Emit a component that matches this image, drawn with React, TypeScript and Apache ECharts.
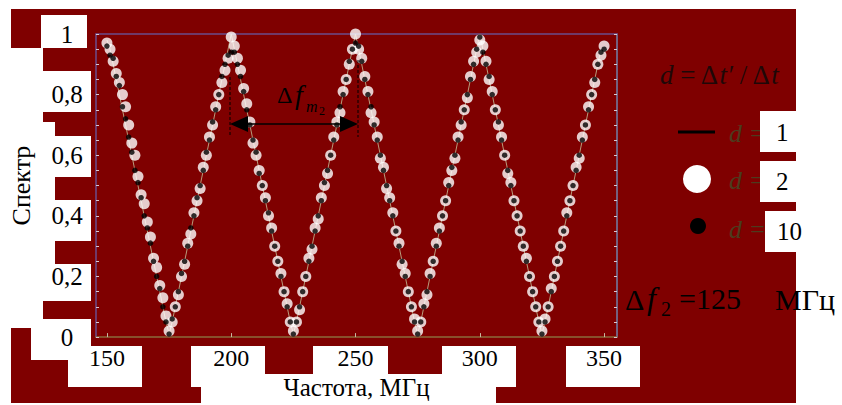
import { useEffect, useRef } from "react";
import * as echarts from "echarts";

// Frequency grid (MHz) (points every ~1.25 MHz)
const freq = [
  150, 151.25, 152.5, 153.75, 155, 156.25, 157.5, 158.75,
  160, 161.25, 162.5, 163.75, 165, 166.25, 167.5, 168.75,
  170, 171.25, 172.5, 173.75, 175, 176.25, 177.5, 178.75,
  180, 181.25, 182.5, 183.75, 185, 186.25, 187.5, 188.75,
  190, 191.25, 192.5, 193.75, 195, 196.25, 197.5, 198.75,
  200, 201.25, 202.5, 203.75, 205, 206.25, 207.5, 208.75,
  210, 211.25, 212.5, 213.75, 215, 216.25, 217.5, 218.75,
  220, 221.25, 222.5, 223.75, 225, 226.25, 227.5, 228.75,
  230, 231.25, 232.5, 233.75, 235, 236.25, 237.5, 238.75,
  240, 241.25, 242.5, 243.75, 245, 246.25, 247.5, 248.75,
  250, 251.25, 252.5, 253.75, 255, 256.25, 257.5, 258.75,
  260, 261.25, 262.5, 263.75, 265, 266.25, 267.5, 268.75,
  270, 271.25, 272.5, 273.75, 275, 276.25, 277.5, 278.75,
  280, 281.25, 282.5, 283.75, 285, 286.25, 287.5, 288.75,
  290, 291.25, 292.5, 293.75, 295, 296.25, 297.5, 298.75,
  300, 301.25, 302.5, 303.75, 305, 306.25, 307.5, 308.75,
  310, 311.25, 312.5, 313.75, 315, 316.25, 317.5, 318.75,
  320, 321.25, 322.5, 323.75, 325, 326.25, 327.5, 328.75,
  330, 331.25, 332.5, 333.75, 335, 336.25, 337.5, 338.75,
  340, 341.25, 342.5, 343.75, 345, 346.25, 347.5, 348.75,
  350,
];

// d = 1 (line)
const specD1 = [
  0.98, 0.95, 0.9, 0.85, 0.8, 0.75, 0.7, 0.65, 0.6, 0.55, 0.5, 0.45, 0.4, 0.35, 0.3, 0.25, 0.2, 0.15, 0.1, 0.05,
  0.01, 0.05, 0.1, 0.15, 0.2, 0.25, 0.3, 0.35, 0.4, 0.45, 0.5, 0.55, 0.6, 0.65, 0.7, 0.75, 0.8, 0.85, 0.9, 0.95,
  1.0, 0.95, 0.9, 0.85, 0.8, 0.75, 0.7, 0.65, 0.6, 0.55, 0.5, 0.45, 0.4, 0.35, 0.3, 0.25, 0.2, 0.15, 0.1, 0.05,
  0.01, 0.05, 0.1, 0.15, 0.2, 0.25, 0.3, 0.35, 0.4, 0.45, 0.5, 0.55, 0.6, 0.65, 0.7, 0.75, 0.8, 0.85, 0.9, 0.95,
  1.0, 0.95, 0.9, 0.85, 0.8, 0.75, 0.7, 0.65, 0.6, 0.55, 0.5, 0.45, 0.4, 0.35, 0.3, 0.25, 0.2, 0.15, 0.1, 0.05,
  0.01, 0.05, 0.1, 0.15, 0.2, 0.25, 0.3, 0.35, 0.4, 0.45, 0.5, 0.55, 0.6, 0.65, 0.7, 0.75, 0.8, 0.85, 0.9, 0.95,
  1.0, 0.95, 0.9, 0.85, 0.8, 0.75, 0.7, 0.65, 0.6, 0.55, 0.5, 0.45, 0.4, 0.35, 0.3, 0.25, 0.2, 0.15, 0.1, 0.05,
  0.01, 0.05, 0.1, 0.15, 0.2, 0.25, 0.3, 0.35, 0.4, 0.45, 0.5, 0.55, 0.6, 0.65, 0.7, 0.75, 0.8, 0.85, 0.9, 0.95,
  0.96,
];

// d = 2 (white circles)
const specD2 = [
  0.97, 0.95, 0.91, 0.87, 0.84, 0.8, 0.76, 0.7, 0.64, 0.6, 0.53, 0.47, 0.44, 0.38, 0.33, 0.26, 0.23, 0.17, 0.13, 0.07,
  0.02, 0.05, 0.1, 0.14, 0.2, 0.24, 0.31, 0.34, 0.41, 0.45, 0.49, 0.56, 0.6, 0.66, 0.7, 0.76, 0.8, 0.84, 0.88, 0.92,
  0.99, 0.96, 0.92, 0.88, 0.82, 0.77, 0.71, 0.64, 0.6, 0.55, 0.5, 0.46, 0.4, 0.36, 0.3, 0.25, 0.21, 0.15, 0.11, 0.05,
  0.02, 0.05, 0.09, 0.15, 0.2, 0.26, 0.29, 0.36, 0.39, 0.46, 0.5, 0.54, 0.6, 0.66, 0.71, 0.74, 0.81, 0.85, 0.9, 0.95,
  1.0, 0.95, 0.92, 0.86, 0.81, 0.74, 0.71, 0.66, 0.59, 0.56, 0.49, 0.46, 0.41, 0.35, 0.31, 0.24, 0.21, 0.15, 0.1, 0.06,
  0.02, 0.05, 0.11, 0.14, 0.21, 0.25, 0.31, 0.36, 0.4, 0.45, 0.51, 0.55, 0.59, 0.66, 0.7, 0.75, 0.79, 0.86, 0.91, 0.94,
  0.98, 0.96, 0.91, 0.85, 0.81, 0.75, 0.7, 0.66, 0.6, 0.54, 0.51, 0.45, 0.4, 0.35, 0.3, 0.26, 0.2, 0.15, 0.1, 0.05,
  0.02, 0.06, 0.1, 0.16, 0.2, 0.25, 0.3, 0.35, 0.41, 0.45, 0.5, 0.56, 0.59, 0.66, 0.7, 0.76, 0.8, 0.84, 0.9, 0.93,
  0.96,
];

// d = 10 (black dots)
const specD10 = [
  0.96, 0.93, 0.92, 0.86, 0.83, 0.76, 0.72, 0.66, 0.61, 0.55, 0.51, 0.46, 0.4, 0.36, 0.31, 0.25, 0.2, 0.16, 0.1, 0.05,
  0.01, 0.06, 0.1, 0.15, 0.21, 0.25, 0.3, 0.36, 0.4, 0.46, 0.5, 0.55, 0.61, 0.65, 0.71, 0.75, 0.8, 0.86, 0.9, 0.93,
  0.94, 0.94, 0.9, 0.86, 0.81, 0.75, 0.7, 0.65, 0.61, 0.54, 0.5, 0.45, 0.41, 0.35, 0.3, 0.25, 0.2, 0.15, 0.1, 0.05,
  0.01, 0.05, 0.1, 0.15, 0.2, 0.25, 0.3, 0.35, 0.4, 0.45, 0.51, 0.55, 0.6, 0.65, 0.7, 0.76, 0.8, 0.85, 0.91, 0.95,
  0.97, 0.96, 0.91, 0.85, 0.8, 0.76, 0.7, 0.65, 0.6, 0.55, 0.5, 0.45, 0.4, 0.35, 0.3, 0.25, 0.2, 0.15, 0.1, 0.05,
  0.01, 0.05, 0.1, 0.15, 0.2, 0.25, 0.3, 0.35, 0.4, 0.45, 0.5, 0.56, 0.6, 0.65, 0.71, 0.75, 0.8, 0.85, 0.9, 0.95,
  0.99, 0.94, 0.9, 0.86, 0.8, 0.75, 0.71, 0.65, 0.6, 0.55, 0.5, 0.45, 0.4, 0.35, 0.3, 0.25, 0.2, 0.15, 0.1, 0.05,
  0.01, 0.05, 0.1, 0.15, 0.2, 0.25, 0.3, 0.35, 0.4, 0.45, 0.5, 0.55, 0.6, 0.65, 0.7, 0.75, 0.8, 0.85, 0.9, 0.94,
  0.95,
];

const xTickValues = [150, 200, 250, 300, 350];
const yLabelValues = [0, 0.2, 0.4, 0.6, 0.8, 1];
const legendValues = ["1", "2", "10"];

const RED = "#7f0000";
const SERIF = '"Liberation Serif", "DejaVu Serif", serif';

export default function App() {
  const ref = useRef<HTMLDivElement>(null);

  useEffect(() => {
    const chart = echarts.init(ref.current!, null, { renderer: "svg" });

    const rect = (x: number, y: number, w: number, h: number, fill: string, z = -8) => ({
      type: "rect",
      shape: { x, y, width: w, height: h },
      style: { fill },
      z,
      silent: true,
    });
    const text = (
      x: number,
      y: number,
      t: string,
      size: number,
      opts: Record<string, any> = {},
      z = 100
    ) => ({
      type: "text",
      x,
      y,
      z,
      silent: true,
      style: {
        text: t,
        fontSize: size,
        fontFamily: SERIF,
        fill: opts.fill || "#000",
        fontStyle: opts.italic ? "italic" : "normal",
        align: opts.align || "left",
        verticalAlign: "middle",
      },
    });

    const yLabelFmt = (v: number) => {
      const r = Math.round(v * 100);
      if (r % 20 !== 0) return "";
      const found = yLabelValues.find((y) => Math.round(y * 100) === r);
      if (found === undefined) return "";
      if (r === 0) return "0";
      if (r === 100) return "1";
      return String(found).replace(".", ",");
    };

    const graphic: any[] = [
      // backgrounds
      rect(11, 9, 785, 394, RED, -10),
      rect(0, 48, 43, 280, "#fff"),
      rect(41, 15, 46, 33, "#fff"),
      rect(43, 71, 48, 41, "#fff"),
      rect(43, 122, 12, 179, "#fff"),
      rect(43, 136, 48, 41, "#fff"),
      rect(43, 200, 48, 41, "#fff"),
      rect(43, 264, 48, 37, "#fff"),
      rect(31, 319, 60, 41, "#fff"),
      rect(68, 346, 74, 41, "#fff"),
      rect(191, 346, 74, 41, "#fff"),
      rect(313, 346, 75, 41, "#fff"),
      rect(442, 346, 74, 41, "#fff"),
      rect(566, 346, 74, 41, "#fff"),
      rect(201, 374, 295, 31, "#fff"),
      rect(760, 111, 82, 41, "#fff"),
      rect(760, 161, 82, 41, "#fff"),
      rect(765, 211, 77, 41, "#fff"),

      // Δf_m2 annotation
      {
        type: "line",
        z: 100,
        silent: true,
        shape: { x1: 230, y1: 77, x2: 230, y2: 137 },
        style: { stroke: "#000", lineWidth: 1, lineDash: [3, 2] },
      },
      {
        type: "line",
        z: 100,
        silent: true,
        shape: { x1: 358, y1: 60, x2: 358, y2: 137 },
        style: { stroke: "#000", lineWidth: 1, lineDash: [3, 2] },
      },
      {
        type: "line",
        z: 100,
        silent: true,
        shape: { x1: 244, y1: 124, x2: 344, y2: 124 },
        style: { stroke: "#000", lineWidth: 1.5 },
      },
      {
        type: "polygon",
        z: 100,
        silent: true,
        shape: { points: [[230, 124], [248, 116], [248, 132]] },
        style: { fill: "#000" },
      },
      {
        type: "polygon",
        z: 100,
        silent: true,
        shape: { points: [[358, 124], [340, 116], [340, 132]] },
        style: { fill: "#000" },
      },
      text(277, 95, "Δ", 24),
      text(295, 94, "f", 28, { italic: true }),
      text(306, 106, "m", 16, { italic: true }),
      text(319, 111, "2", 12),

      // legend title
      {
        type: "text",
        x: 660,
        y: 75,
        z: 100,
        silent: true,
        style: {
          text: "{i|d} = Δ{i|t′} / Δ{i|t}",
          fontSize: 27,
          fontFamily: SERIF,
          fill: "#1e0808",
          verticalAlign: "middle",
          rich: {
            i: { fontStyle: "italic", fontSize: 27, fontFamily: SERIF, fill: "#1e0808" },
          },
        },
      },
      // legend symbols
      {
        type: "line",
        z: 100,
        silent: true,
        shape: { x1: 678, y1: 132, x2: 715, y2: 132 },
        style: { stroke: "#000", lineWidth: 3 },
      },
      {
        type: "circle",
        z: 100,
        silent: true,
        shape: { cx: 697, cy: 179, r: 14 },
        style: { fill: "#fff" },
      },
      {
        type: "circle",
        z: 100,
        silent: true,
        shape: { cx: 698, cy: 226, r: 8 },
        style: { fill: "#000" },
      },
      text(729, 133, "d =", 26, { italic: true, fill: "#4d3b1e" }, -9),
      text(729, 180, "d =", 26, { italic: true, fill: "#4d3b1e" }, -9),
      text(729, 229, "d =", 26, { italic: true, fill: "#4d3b1e" }, -9),
      text(776, 132, legendValues[0], 25),
      text(776, 181, legendValues[1], 25),
      text(777, 231, legendValues[2], 25),

      // Δf2 = 125 МГц
      text(625, 299, "Δ", 30),
      text(647, 298, "f", 32, { italic: true }),
      text(661, 309, "2", 20),
      text(679, 298, "=125", 30),
      text(775, 299, "МГц", 30),
    ];

    const option: any = {
      animation: false,
      grid: { left: 96, top: 34, right: 225, bottom: 60, show: false },
      xAxis: [
        {
          type: "value",
          min: 145.6,
          max: 355.2,
          position: "bottom",
          axisLine: { show: true, onZero: false, lineStyle: { color: "#8b6b3b", width: 1.5 } },
          axisTick: {
            show: true,
            inside: true,
            length: 4,
            customValues: xTickValues,
            lineStyle: { color: "#c8b8a0" },
          },
          axisLabel: {
            customValues: xTickValues,
            margin: 21,
            verticalAlign: "middle",
            fontFamily: SERIF,
            fontSize: 24,
            color: "#000",
          },
          splitLine: { show: false },
          name: "Частота, МГц",
          nameLocation: "middle",
          nameGap: 47,
          nameTextStyle: { fontFamily: SERIF, fontSize: 25, color: "#000", verticalAlign: "middle" },
        },
        {
          type: "value",
          min: 145.6,
          max: 355.2,
          position: "top",
          axisLine: { show: true, onZero: false, lineStyle: { color: "#6b4c8c", width: 1.5 } },
          axisTick: { show: false },
          axisLabel: { show: false },
          splitLine: { show: false },
        },
      ],
      yAxis: [
        {
          type: "value",
          min: 0,
          max: 1,
          interval: 0.05,
          position: "left",
          axisLine: { show: true, onZero: false, lineStyle: { color: "#6b4c8c", width: 1.5 } },
          axisTick: { show: true, inside: true, length: 3, lineStyle: { color: "#d8c8d0" } },
          axisLabel: {
            formatter: yLabelFmt,
            margin: 29,
            align: "center",
            fontFamily: SERIF,
            fontSize: 25,
            color: "#000",
          },
          splitLine: { show: false },
          name: "Спектр",
          nameLocation: "middle",
          nameRotate: 90,
          nameGap: 75,
          nameTextStyle: { fontFamily: SERIF, fontSize: 26, color: "#000", verticalAlign: "middle" },
        },
        {
          type: "value",
          min: 0,
          max: 1,
          interval: 0.05,
          position: "right",
          axisLine: { show: true, onZero: false, lineStyle: { color: "#7080a8", width: 1.5 } },
          axisTick: { show: true, inside: true, length: 3, lineStyle: { color: "#d8c8d0" } },
          axisLabel: { show: false },
          splitLine: { show: false },
        },
      ],
      series: [
        {
          name: "d = 1",
          type: "line",
          data: freq.map((f, i) => [f, specD1[i]]),
          showSymbol: false,
          symbol: "none",
          lineStyle: { color: "#b89c7c", width: 1 },
          z: 2,
        },
        {
          name: "d = 2",
          type: "scatter",
          data: freq.map((f, i) => [f, specD2[i]]),
          symbol: "circle",
          symbolSize: 11,
          itemStyle: { color: "#ffffff" },
          z: 3,
        },
        {
          name: "d = 10",
          type: "scatter",
          data: freq.map((f, i) => [f, specD10[i]]),
          symbol: "circle",
          symbolSize: 5.5,
          itemStyle: { color: "#000000" },
          z: 4,
        },
      ],
      graphic,
    };

    chart.setOption(option);
    return () => chart.dispose();
  }, []);

  return (
    <div
      ref={ref}
      style={{ position: "absolute", left: 0, top: 0, width: 842, height: 405 }}
    />
  );
}
